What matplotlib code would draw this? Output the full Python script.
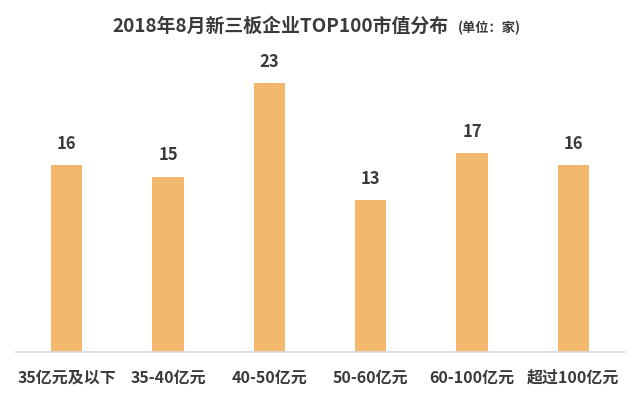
import matplotlib
matplotlib.use("Agg")
import matplotlib.pyplot as plt

plt.rcParams['font.family'] = ['Noto Sans CJK SC', 'DejaVu Sans']

categories = ["35亿元及以下", "35-40亿元", "40-50亿元", "50-60亿元", "60-100亿元", "超过100亿元"]
values = [16, 15, 23, 13, 17, 16]
title = "2018年8月新三板企业TOP100市值分布"
unit = "(单位：家)"

bar_color = "#F2B86E"
text_color = "#3A3A3A"

fig = plt.figure(figsize=(6.4, 3.99), dpi=100)
ax = fig.add_axes([16/640, 47/399, 609/640, 292/399])
x = list(range(len(categories)))
ax.bar(x, values, width=0.31, color=bar_color, zorder=2)
ax.set_xlim(-0.50, 5.51)
ax.set_ylim(0, 25)
for s in ["top", "right", "left"]:
    ax.spines[s].set_visible(False)
ax.spines["bottom"].set_color("#D9D9D9")
ax.spines["bottom"].set_linewidth(1.2)
ax.set_yticks([])
ax.set_xticks(x)
ax.set_xticklabels(categories, fontsize=11.5, fontweight='bold', color=text_color)
ax.tick_params(axis='x', length=0, pad=12.5)
for xi, v in zip(x, values):
    ax.annotate(str(v), (xi, v), xytext=(0, 9), textcoords='offset points',
                ha='center', va='bottom', fontsize=12, fontweight='bold', color=text_color)

t = fig.text(112/640, 1 - 26/399, title, ha='left', va='center', fontsize=13.6,
             fontweight='bold', color=text_color)
fig.canvas.draw()
bb = t.get_window_extent()
fig.text((bb.x1 + 10)/640, 1 - 28/399, unit, ha='left', va='center', fontsize=9.5,
         fontweight='bold', color=text_color)

fig.savefig("out.png", dpi=100, facecolor="white")
